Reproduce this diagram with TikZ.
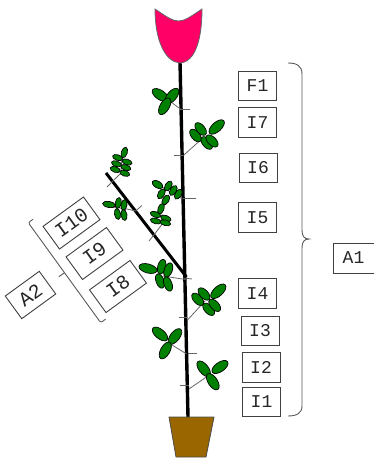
\documentclass[tikz,border=0pt]{standalone}
\usepackage{fontspec}
\newfontfamily\mono{Liberation Mono}
\definecolor{leafg}{RGB}{0,128,0}
\definecolor{petal}{RGB}{255,0,102}
\definecolor{potc}{RGB}{153,102,0}
\newcommand\lf[5]{\pgfmathsetmacro\lfang{-1*(#3)}\draw[leaflet,shift={(#1,#2)},rotate=\lfang] (0,0) ellipse[x radius=#4pt,y radius=#5pt];}
\tikzset{
  leaflet/.style={fill=leafg,draw=black,line width=0.7pt},
  stemst/.style={line width=3.4pt,black},
  branchst/.style={line width=3pt,black},
  tickst/.style={draw=black!60,line width=0.8pt},
  petst/.style={draw=black!60,line width=0.8pt},
  bracest/.style={draw=black!65,line width=0.9pt},
  ibox/.style={draw=black!75,line width=0.9pt,fill=white,minimum width=38pt,minimum height=29.5pt,inner sep=0pt,text=black!85,font=\mono\fontsize{18}{20}\selectfont},
  rbox/.style={ibox,minimum width=50pt,minimum height=28pt,rotate=36,font=\mono\fontsize{20}{22}\selectfont}
}
\begin{document}
\begin{tikzpicture}[x=1pt,y=-1pt]
\useasboundingbox (0,0) rectangle (374,458);
% skeleton
\coordinate (stemtop) at (180,62);
\coordinate (stembot) at (188,417);
\coordinate (brtop) at (106,173);
\coordinate (brjoin) at (186.5,277);
\draw[branchst] (brtop) -- (brjoin);
\draw[stemst] (stemtop) -- (stembot);
% ticks on main stem
\draw[tickst] (179,109) -- (190,109);
\draw[tickst] (174,155) -- (183,155);
\draw[tickst] (183,198) -- (196,198);
\draw[tickst] (183,278) -- (192,279);
\draw[tickst] (179,317) -- (188,317);
\draw[tickst] (188,353) -- (197,353);
\draw[tickst] (180,385) -- (189,385);
% ticks on branch
\coordinate (b1) at (112.5,181.4);
\coordinate (b2) at (135.5,211);
\coordinate (b3) at (154,234.8);
\draw[tickst] (b1) -- (107,187);
\draw[tickst] (b2) -- (142,205.5);
\draw[tickst] (b3) -- (149,241);
% petioles
\coordinate (s1) at (181.7,110);   \coordinate (p1) at (168.3,100);
\coordinate (s2) at (183.3,155.5); \coordinate (p2) at (204,137);
\coordinate (s3) at (182.5,199);   \coordinate (p3) at (160,186);
\coordinate (s4) at (185.5,279.5); \coordinate (p4) at (163,276);
\coordinate (s5) at (187.5,320);   \coordinate (p5) at (205,301);
\coordinate (s6) at (186.7,354);   \coordinate (p6) at (169.3,343.3);
\coordinate (s7) at (189,389);     \coordinate (p7) at (208.5,375.5);
\foreach \a/\b in {s1/p1,s2/p2,s3/p3,s4/p4,s5/p5,s6/p6,s7/p7} \draw[petst] (\a) -- (\b);
\draw[petst] (b1) -- (120.5,173.5) -- (122,158);
\draw[petst] (b2) -- (127,209) -- (112,207);
\draw[petst] (b3) -- (161.5,225) -- (161,213);
% leaves: main stem
\lf{160.3}{95}{34}{9.3}{4.7} \lf{172}{96}{-50}{9.3}{4.7} \lf{164.7}{106.3}{-60}{9.3}{4.7}
\lf{195.5}{135.5}{50}{7.5}{4.2} \lf{200.7}{129}{50}{7.5}{4.2} \lf{206.7}{143}{50}{7.5}{4.2} \lf{212}{141}{45}{7.5}{4.2} \lf{216.7}{127}{-42}{9.5}{4.7}
\lf{157.5}{184.5}{31}{6}{3.3} \lf{168.3}{186}{-59}{5.5}{3.2} \lf{161.3}{193.8}{-59}{5.5}{3.2} \lf{173.3}{190.5}{-59}{5.5}{3.2} \lf{165.8}{200}{-59}{5.5}{3.2} \lf{178.3}{194.2}{-59}{5.5}{3.2}
\lf{148}{268.5}{15}{9.3}{4.5} \lf{161.7}{266.7}{-75}{7.5}{4} \lf{168.3}{270}{-70}{7.5}{4} \lf{160}{281}{70}{7.5}{4} \lf{168}{284}{70}{7.5}{4}
\lf{197.7}{299.3}{47}{7.5}{4.2} \lf{204}{294}{47}{7.5}{4.2} \lf{208.7}{309.3}{47}{7.5}{4.2} \lf{214.7}{305.3}{47}{7.5}{4.2} \lf{218.3}{291.3}{-43}{9.5}{4.7}
\lf{160}{334}{40}{9.3}{4.7} \lf{175}{336.5}{-52}{9.3}{4.7} \lf{165.3}{350.5}{-61}{9.3}{4.7}
\lf{220}{367}{-35}{9.3}{4.7} \lf{203.7}{368.8}{52}{9.3}{4.7} \lf{212.8}{381.7}{57}{9.3}{4.7}
% leaves: branch
\lf{124.3}{152.5}{-72}{5.5}{3} \lf{117.6}{157.6}{18}{5.2}{2.8} \lf{127}{162}{18}{5.2}{2.8} \lf{116.5}{163.8}{18}{5.2}{2.8} \lf{125.8}{167.6}{18}{5.2}{2.8} \lf{115.2}{169.5}{18}{5.2}{2.8} \lf{124.7}{173.3}{18}{5.2}{2.8}
\lf{109}{204.5}{10}{6.5}{3} \lf{118.3}{203}{-80}{5.5}{3} \lf{124}{205}{-80}{5.5}{3} \lf{117.5}{214}{80}{5.5}{3} \lf{124}{215}{80}{5.5}{3}
\lf{161}{208.7}{-70}{5.5}{3} \lf{155.5}{214.5}{20}{5.5}{2.8} \lf{165.8}{218.3}{20}{5.5}{2.8} \lf{155.7}{221}{15}{5.5}{2.8} \lf{165.3}{222.8}{15}{5.5}{2.8}
% flower
\draw[fill=petal,draw=black!60,line width=0.8pt] (155,9) .. controls (178.5,25) .. (202,9) .. controls (202,40) and (195,62) .. (180,63) .. controls (165,62) and (155,40) .. (155,9) -- cycle;
% pot
\draw[fill=potc,draw=black!70,line width=0.8pt] (169,417) -- (214,417) -- (206,457) -- (176,457) -- cycle;
% braces
\draw[bracest] (288,63) .. controls (297,63) and (302,66) .. (302,74) -- (302,230) .. controls (302,236) and (304,239) .. (309,239) .. controls (304,239) and (302,242) .. (302,248) -- (302,406) .. controls (302,413) and (297,416) .. (288,416);
\draw[bracest,rounded corners=2pt] (33,219.3) -- (28.3,222.7) -- (100.7,322.7) -- (105.5,319.2);
\draw[bracest] (64.5,272.7) -- (58.8,276.8);
% labels
\node[ibox] (F1) at (257.5,86) {F1};
\node[ibox] (I7) at (257.5,122.5) {I7};
\node[ibox] (I6) at (258,168) {I6};
\node[ibox] (I5) at (257.5,217.5) {I5};
\node[ibox] (I4) at (257.5,293.5) {I4};
\node[ibox] (I3) at (260,331) {I3};
\node[ibox] (I2) at (261,367.5) {I2};
\node[ibox] (I1) at (261.5,402) {I1};
\node[ibox,minimum width=41pt,minimum height=30pt] (A1) at (353.5,258) {A1};
\node[rbox] (I10) at (71.5,223) {I10};
\node[rbox] (I9) at (94.5,253.5) {I9};
\node[rbox] (I8) at (118,286.5) {I8};
\node[rbox,minimum width=42pt] (A2) at (30.5,295) {A2};
\end{tikzpicture}
\end{document}
